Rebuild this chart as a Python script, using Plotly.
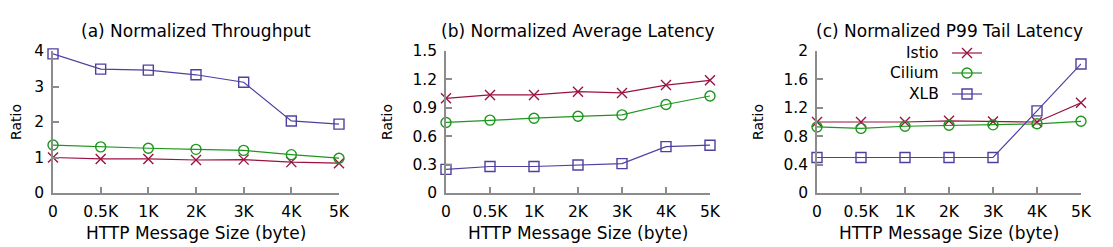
import plotly.graph_objects as go

sizes = ["0", "0.5K", "1K", "2K", "3K", "4K", "5K"]
series_names = ["Istio", "Cilium", "XLB"]

thr_istio = [1.00, 0.96, 0.96, 0.93, 0.94, 0.87, 0.84]
thr_cilium = [1.35, 1.30, 1.26, 1.23, 1.20, 1.08, 0.98]
thr_xlb = [3.92, 3.49, 3.46, 3.33, 3.12, 2.03, 1.94]

avg_istio = [1.00, 1.036, 1.036, 1.07, 1.057, 1.14, 1.19]
avg_cilium = [0.745, 0.77, 0.79, 0.81, 0.825, 0.935, 1.025]
avg_xlb = [0.25, 0.28, 0.28, 0.295, 0.31, 0.49, 0.505]

p99_istio = [1.00, 1.00, 1.00, 1.016, 1.007, 1.00, 1.27]
p99_cilium = [0.93, 0.91, 0.94, 0.955, 0.96, 0.975, 1.01]
p99_xlb = [0.50, 0.50, 0.50, 0.50, 0.50, 1.157, 1.817]

titles = ["(a) Normalized Throughput", "(b) Normalized Average Latency", "(c) Normalized P99 Tail Latency"]
y_max = [4, 1.5, 2]
y_step = [1, 0.3, 0.4]

colors = {"Istio": "#9a1242", "Cilium": "#1c961c", "XLB": "#4d41a0"}
symbols = {"Istio": "x-thin-open", "Cilium": "circle-open", "XLB": "square-open"}
msize = {"Istio": 10, "Cilium": 10, "XLB": 10}

W, H = 1113, 247
panels_px = [(53, 339), (446, 710), (817, 1081)]
top_px, bot_px = 51, 193
ratio_x_px = [16, 387, 758]

FONT = "DejaVu Sans"
AXIS_GRAY = "#8c8c8c"

fig = go.Figure()
data = [
    {"Istio": thr_istio, "Cilium": thr_cilium, "XLB": thr_xlb},
    {"Istio": avg_istio, "Cilium": avg_cilium, "XLB": avg_xlb},
    {"Istio": p99_istio, "Cilium": p99_cilium, "XLB": p99_xlb},
]

ydom = [1 - bot_px / H, 1 - top_px / H]
annotations = []
layout_axes = {}
for i in range(3):
    ax = "" if i == 0 else str(i + 1)
    for name in series_names:
        fig.add_trace(go.Scatter(
            x=sizes, y=data[i][name], mode="lines+markers", name=name,
            xaxis="x" + ax, yaxis="y" + ax, showlegend=False, cliponaxis=False,
            line=dict(color=colors[name], width=1.2),
            marker=dict(symbol=symbols[name], size=msize[name],
                        color=colors[name], line=dict(color=colors[name], width=1.4)),
        ))
    x0, x1 = panels_px[i]
    dom = [x0 / W, x1 / W]
    ticks = [round(k * y_step[i], 2) for k in range(int(round(y_max[i] / y_step[i])) + 1)]
    layout_axes["xaxis" + ax] = dict(domain=dom, anchor="y" + ax, type="category",
                           categoryorder="array", categoryarray=sizes,
                           range=[0, 6], showline=True, linecolor=AXIS_GRAY, linewidth=1.5,
                           ticks="inside", ticklen=6, tickcolor=AXIS_GRAY, tickwidth=1.5,
                           showgrid=False, zeroline=False, ticklabelstandoff=4,
                           tickfont=dict(family=FONT, size=15.5, color="black"))
    layout_axes["yaxis" + ax] = dict(domain=ydom, anchor="x" + ax, range=[0, y_max[i]],
                           tickvals=ticks, ticktext=[f"{t:g}" for t in ticks],
                           showline=True, linecolor=AXIS_GRAY, linewidth=1.5,
                           ticks="inside", ticklen=6, tickcolor=AXIS_GRAY, tickwidth=1.5,
                           showgrid=False, zeroline=False, ticklabelstandoff=4,
                           tickfont=dict(family=FONT, size=15.5, color="black"))
    cx = (x0 + x1) / 2 / W
    annotations.append(dict(text=titles[i], x=cx, y=1 - 31 / H, xref="paper", yref="paper",
                            showarrow=False, xanchor="center", yanchor="middle",
                            font=dict(family=FONT, size=17, color="black")))
    annotations.append(dict(text="HTTP Message Size (byte)", x=cx, y=1 - 233 / H,
                            xref="paper", yref="paper", showarrow=False,
                            xanchor="center", yanchor="middle",
                            font=dict(family=FONT, size=17, color="black")))
    annotations.append(dict(text="Ratio", x=ratio_x_px[i] / W, y=1 - 122 / H,
                            xref="paper", yref="paper", showarrow=False, textangle=-90,
                            xanchor="center", yanchor="middle",
                            font=dict(family=FONT, size=14, color="black")))

# Legend inside panel (c): text right-aligned, sample line + marker to the right
leg_text_right = 941
leg_line = (952, 982)
leg_rows = [53, 73, 94]
layout_axes["xaxis4"] = dict(domain=[leg_line[0] / W, leg_line[1] / W], range=[leg_line[0], leg_line[1]],
                             visible=False, fixedrange=True, anchor="y4")
layout_axes["yaxis4"] = dict(domain=[1 - 104 / H, 1 - 43 / H], range=[104, 43],
                             visible=False, fixedrange=True, anchor="x4")
shapes = []
for name, yrow in zip(series_names, leg_rows):
    annotations.append(dict(text=name, x=leg_text_right / W, y=1 - yrow / H, xref="paper", yref="paper",
                            showarrow=False, xanchor="right", yanchor="middle",
                            font=dict(family=FONT, size=15.5, color="black")))
    shapes.append(dict(type="line", xref="paper", yref="paper",
                       x0=leg_line[0] / W, x1=leg_line[1] / W, y0=1 - yrow / H, y1=1 - yrow / H,
                       line=dict(color=colors[name], width=1.2)))
    fig.add_trace(go.Scatter(
        x=[(leg_line[0] + leg_line[1]) / 2], y=[yrow], xaxis="x4", yaxis="y4", mode="markers",
        showlegend=False, hoverinfo="skip", cliponaxis=False,
        marker=dict(symbol=symbols[name], size=msize[name], color=colors[name],
                    line=dict(color=colors[name], width=1.4)),
    ))

fig.update_layout(**layout_axes)
fig.update_layout(
    width=W, height=H, margin=dict(l=0, r=0, t=0, b=0, autoexpand=False),
    paper_bgcolor="white", plot_bgcolor="rgba(0,0,0,0)",
    annotations=annotations, shapes=shapes, showlegend=False,
    font=dict(family=FONT, color="black"),
)
fig.write_html("out.html", config={"displayModeBar": False},
               post_script="document.body.style.margin='0px';")
